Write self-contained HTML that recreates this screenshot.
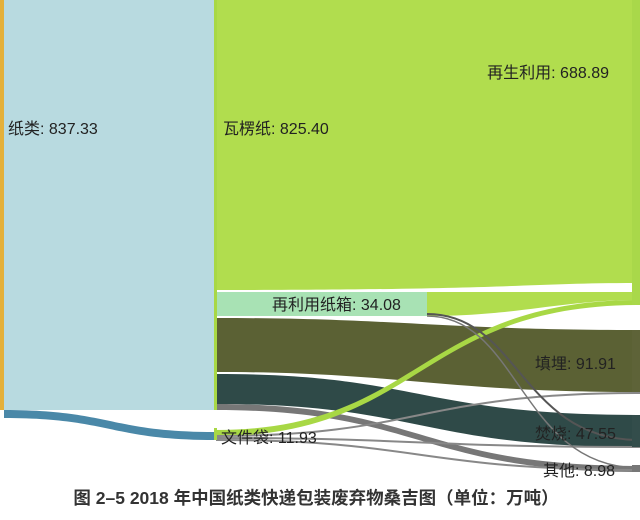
<!DOCTYPE html>
<html><head><meta charset="utf-8"><style>
body{margin:0;background:#fff;}
svg{display:block}
text{font-family:"Liberation Sans","Noto Sans CJK SC",sans-serif;font-size:16px;fill:#222}
</style></head><body>
<svg width="640" height="520" viewBox="0 0 640 520">
<rect x="0" y="0" width="640" height="520" fill="#fff"/>
<rect x="4" y="0" width="210" height="410" fill="#b8dae0"/>
<rect x="0" y="0" width="4" height="410" fill="#e4b03a"/>
<path d="M4 410 C110 410 110 432 215 432 L215 440 C110 440 110 418 4 418 Z" fill="#4a88a8"/>
<path d="M214 0 L640 0 L640 283 C520 283 520 290 214 290 Z" fill="#b1dd4e"/>
<path d="M427 292 L640 292 L640 300 C560 300 520 316 427 316 Z" fill="#b1dd4e"/>
<rect x="216" y="292" width="211" height="24" fill="#a8e2b4"/>
<path d="M216 318 C400 318 440 330 640 330 L640 392 C440 392 400 372 216 372 Z" fill="#5b6134"/>
<path d="M216 374 C420 374 420 415 640 415 L640 447 C420 447 420 404 216 404 Z" fill="#2f4a48"/>
<path d="M216 404 C420 404 420 466 640 466 L640 472 C420 472 420 410 216 410 Z" fill="#777"/>
<path d="M216 430 C420 430 420 300 640 300 L640 305 C420 305 420 436 216 436 Z" fill="#a8d845"/>
<path d="M216 436 C420 436 420 393 640 393" stroke="#888" stroke-width="2" fill="none"/>
<path d="M216 438 C420 438 420 447 640 447" stroke="#888" stroke-width="2" fill="none"/>
<path d="M216 440 C420 440 420 470 640 470" stroke="#888" stroke-width="2" fill="none"/>
<path d="M427 314 C520 314 520 440 640 440" stroke="#555" stroke-width="2" fill="none"/>
<path d="M427 316 C520 316 520 468 640 468" stroke="#777" stroke-width="1.5" fill="none"/>
<rect x="214" y="0" width="3" height="410" fill="#a8d845"/>
<rect x="214" y="428" width="3" height="12" fill="#a8d845"/>
<rect x="632" y="0" width="8" height="305" fill="#a9d84a"/>
<rect x="632" y="330" width="8" height="62" fill="#5e6338"/>
<rect x="632" y="415" width="8" height="32" fill="#334d4b"/>
<rect x="632" y="465" width="8" height="7" fill="#777"/>
<text x="8" y="134">纸类: 837.33</text>
<text x="223" y="134">瓦楞纸: 825.40</text>
<text x="609" y="78" text-anchor="end">再生利用: 688.89</text>
<text x="272" y="310">再利用纸箱: 34.08</text>
<text x="535" y="369">填埋: 91.91</text>
<text x="535" y="439">焚烧: 47.55</text>
<text x="543" y="476">其他: 8.98</text>
<text x="221" y="443">文件袋: 11.93</text>
<text x="316" y="504" text-anchor="middle" style="font-weight:bold;font-size:17.5px;fill:#333">图 2–5 2018 年中国纸类快递包装废弃物桑吉图（单位：万吨）</text>
</svg>
</body></html>
